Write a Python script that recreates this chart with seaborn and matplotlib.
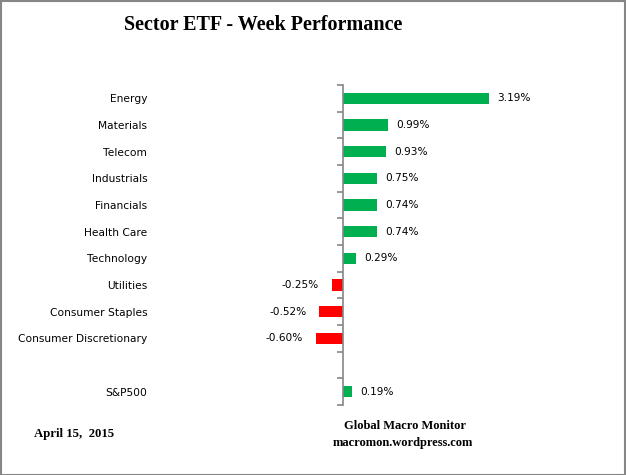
import matplotlib
matplotlib.use("Agg")
import matplotlib.pyplot as plt
import seaborn as sns
import pandas as pd
from matplotlib.patches import Rectangle
from matplotlib.ticker import FixedLocator

sectors = ["Energy", "Materials", "Telecom", "Industrials", "Financials",
           "Health Care", "Technology", "Utilities", "Consumer Staples",
           "Consumer Discretionary", "S&P500"]
values = [3.19, 0.99, 0.93, 0.75, 0.74, 0.74, 0.29, -0.25, -0.52, -0.60, 0.19]
blank_slot = " "
order = sectors[:-1] + [blank_slot] + sectors[-1:]

df = pd.DataFrame({"sector": sectors, "value": values})
df["sign"] = ["pos" if v >= 0 else "neg" for v in values]

GREEN = "#00B050"
RED = "#FF0000"
GRAY = "#868686"

sns.set_style("white")
plt.rcParams["font.family"] = ["DejaVu Sans"]
plt.rcParams["text.color"] = "black"

fig = plt.figure(figsize=(6.26, 4.75), dpi=100)
W, H = 626, 475
ax_left, ax_right, ax_top, ax_bot = 150, 600, 85, 405
ax = fig.add_axes([ax_left / W, 1 - ax_bot / H, (ax_right - ax_left) / W, (ax_bot - ax_top) / H])

sns.barplot(data=df, y="sector", x="value", hue="sign", order=order,
            palette={"pos": GREEN, "neg": RED}, dodge=False, width=0.42,
            legend=False, ax=ax, saturation=1, linewidth=0)

zero_px = 343
scale = 45.8
ax.set_xlim(-(zero_px - ax_left) / scale, (ax_right - zero_px) / scale)
ax.set_ylim(len(order) - 0.5, -0.5)

for s in ["top", "right", "bottom"]:
    ax.spines[s].set_visible(False)
ax.spines["left"].set_position(("data", 0))
ax.spines["left"].set_color(GRAY)
ax.spines["left"].set_linewidth(1.2)
ax.set_xticks([])
ax.set_xlabel("")
ax.set_ylabel("")
ax.yaxis.set_minor_locator(FixedLocator([i - 0.5 for i in range(len(order) + 1)]))
ax.tick_params(axis="y", which="minor", length=4, width=1.2, color=GRAY, direction="out", left=True)
ax.tick_params(axis="y", which="major", length=0, pad=141, labelsize=7.7, labelcolor="#000000")

for name, v in zip(sectors, values):
    y = order.index(name)
    off = 6 if v >= 0 else -9
    ax.annotate(f"{v:.2f}%", xy=(v, y), xytext=(off, 0), textcoords="offset points",
                ha="left" if v >= 0 else "right", va="center", fontsize=7.6, color="#000000")

fig.text(263 / W, 1 - 25 / H, "Sector ETF - Week Performance", ha="center", va="center",
         fontsize=14.5, fontweight="bold", family="Liberation Serif", color="black")
fig.text(34 / W, 1 - 434 / H, "April 15,  2015", ha="left", va="center",
         fontsize=9.2, fontweight="bold", family="Liberation Serif", color="black")
fig.text(405 / W, 1 - 426 / H, "Global Macro Monitor", ha="center", va="center",
         fontsize=9, fontweight="bold", family="Liberation Serif", color="black")
fig.text(403 / W, 1 - 443 / H, "macromon.wordpress.com", ha="center", va="center",
         fontsize=9, fontweight="bold", family="Liberation Serif", color="black")

fig.patches.append(Rectangle((0.5 / W, 0.5 / H), 1 - 1.5 / W, 1 - 1.5 / H, transform=fig.transFigure,
                             fill=False, edgecolor=GRAY, linewidth=1.5))

fig.savefig("out.png", dpi=100)
